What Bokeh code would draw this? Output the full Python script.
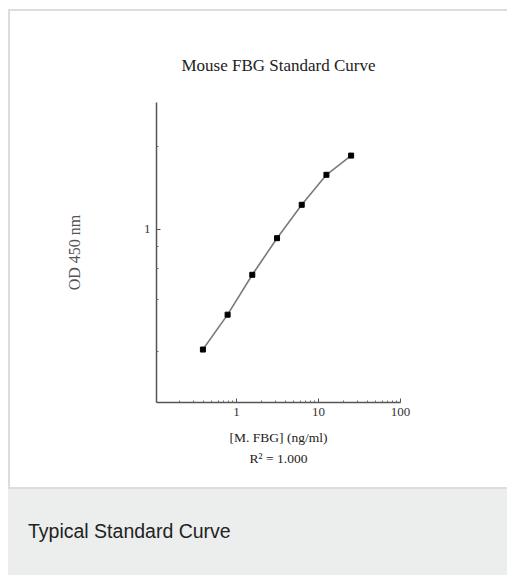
from bokeh.plotting import figure
from bokeh.models import FixedTicker, Div, BasicTickFormatter
from bokeh.layouts import column
from bokeh.embed import file_html
from bokeh.resources import INLINE

# ---- data ----
conc = [0.39, 0.78, 1.56, 3.125, 6.25, 12.5, 25.0]          # ng/ml
od = [0.206, 0.326, 0.551, 0.892, 1.384, 2.054, 2.645]      # OD 450 nm

x_major = [1, 10, 100]
x_major_labels = ["1", "10", "100"]
x_minor = [0.2, 0.3, 0.4, 0.5, 0.6, 0.7, 0.8, 0.9,
           2, 3, 4, 5, 6, 7, 8, 9,
           20, 30, 40, 50, 60, 70, 80, 90]
y_major = [1]
y_major_labels = ["1"]
y_minor = [0.2, 0.4, 0.6, 0.8, 3]

title_text = "Mouse FBG Standard Curve"
x_label = "[M. FBG] (ng/ml)"
r2_text = "R\u00b2 = 1.000"
y_label = "OD 450 nm"
caption_text = "Typical Standard Curve"

SERIF = "Liberation Serif"

p = figure(width=497, height=476,
           x_axis_type="log", y_axis_type="log",
           x_range=(0.106, 100), y_range=(0.1026, 5.32),
           output_backend="svg", toolbar_location=None,
           title=title_text,
           min_border_left=146, min_border_right=107,
           min_border_top=91, min_border_bottom=85)

p.background_fill_color = "white"
p.border_fill_color = "white"
p.outline_line_color = None
p.xgrid.visible = False
p.ygrid.visible = False

p.title.align = "center"
p.title.text_font = SERIF
p.title.text_font_size = "17px"
p.title.text_font_style = "normal"
p.title.text_color = "#222222"
p.title.standoff = 56

# x axis
xa = p.xaxis[0]
xa.ticker = FixedTicker(ticks=x_major, minor_ticks=x_minor)
xa.formatter = BasicTickFormatter()
xa.major_label_overrides = dict(zip(x_major, x_major_labels))
xa.axis_label = x_label + "\n" + r2_text
xa.axis_label_text_font = SERIF
xa.axis_label_text_font_size = "13.5px"
xa.axis_label_text_font_style = "normal"
xa.axis_label_text_color = "#222222"
xa.axis_label_text_line_height = 1.45
xa.axis_label_standoff = 11
xa.major_label_text_font = SERIF
xa.major_label_text_font_size = "13px"
xa.major_label_text_color = "#333333"
xa.major_label_standoff = 5

# y axis
ya = p.yaxis[0]
ya.ticker = FixedTicker(ticks=y_major, minor_ticks=y_minor)
ya.formatter = BasicTickFormatter()
ya.major_label_overrides = dict(zip(y_major, y_major_labels))
ya.axis_label = y_label
ya.axis_label_text_font = SERIF
ya.axis_label_text_font_size = "16px"
ya.axis_label_text_font_style = "normal"
ya.axis_label_text_color = "#555555"
ya.axis_label_standoff = 58
ya.major_label_text_font = SERIF
ya.major_label_text_font_size = "13px"
ya.major_label_text_color = "#333333"
ya.major_label_standoff = 6

for ax in (xa, ya):
    ax.axis_line_color = "#555555"
    ax.axis_line_width = 1.5
    ax.major_tick_line_color = "#555555"
    ax.minor_tick_line_color = "#666666"
    ax.major_tick_in = 4
    ax.major_tick_out = 0
    ax.minor_tick_in = 2
    ax.minor_tick_out = 0

p.line(conc, od, line_color="#7a7a7a", line_width=1.6)
p.scatter(conc, od, marker="square", size=5, fill_color="black", line_color="black")

card = column(p, spacing=0, margin=0,
              styles={"border-top": "2px solid #dddddd",
                      "border-left": "2px solid #dddddd"})
sep = Div(text="", width=499, height=2, margin=0,
          styles={"background-color": "#dddddd"})
cap = Div(text='<div style="padding:31px 0 0 20px;font-family:\'Liberation Sans\',Arial,sans-serif;'
               'font-size:19.5px;line-height:23px;color:#222222;">' + caption_text + '</div>',
          width=499, height=86, margin=0, styles={"background-color": "#eceeed"})

layout = column(card, sep, cap, spacing=0, margin=(9, 0, 0, 8))

open("out.html", "w").write(file_html(layout, INLINE))
